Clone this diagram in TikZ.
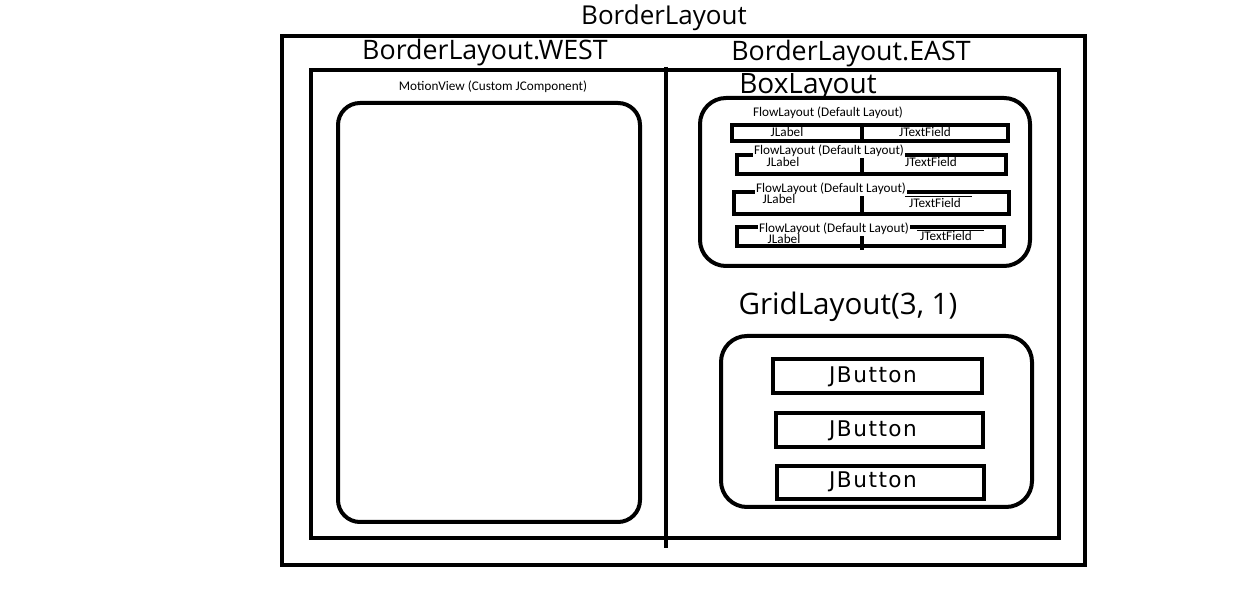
\documentclass[tikz,border=0pt]{standalone}
\usepackage{fontspec}
\setmainfont{Open Sans}
\newfontfamily\smallfont{Carlito}
\newfontfamily\btnfont[LetterSpace=7]{DejaVu Sans}
\usepackage{tikz}

\tikzset{
    box/.style={draw, line width=2pt, inner sep=0pt},
    roundbox/.style={draw, line width=2pt, rounded corners=11pt},
    rowbox/.style={draw, line width=1.6pt},
    bigtext/.style={font=\fontsize{13.4}{15}\selectfont, inner sep=0pt},
    hugetext/.style={font=\fontsize{14}{16}\selectfont, inner sep=0pt},
    tinytext/.style={font=\smallfont\fontsize{6.6}{7}\selectfont, inner sep=0pt},
    covertext/.style={tinytext, fill=white, inner sep=0.4pt},
    btntext/.style={font=\btnfont\fontsize{10.8}{12}\selectfont, inner sep=0pt},
}

\begin{document}
\begin{tikzpicture}[x=0.5pt, y=-0.5pt]
    \useasboundingbox (0,0) rectangle (1257,613);

    % Outer frames
    \node[bigtext, font=\fontsize{13}{15}\selectfont] (title) at (664,18) {BorderLayout};
    \draw[box] (282,36) rectangle (1085,565);
    \draw[box] (311,70) rectangle (1059,538);
    \draw[line width=2pt] (666,67) -- (666,548);
    \node[bigtext] (west) at (485,53) {BorderLayout.WEST};
    \node[bigtext] (east) at (851,54) {BorderLayout.EAST};

    % West side
    \node[tinytext] (motion) at (493,87) {MotionView (Custom JComponent)};
    \draw[roundbox] (338,103) rectangle (640,522);

    % BoxLayout
    \node[hugetext] (box) at (808,87) {BoxLayout};
    \draw[roundbox, rounded corners=13pt] (700,98) rectangle (1030,266);

    \node[tinytext] (flowA) at (828,113) {FlowLayout (Default Layout)};
    \draw[rowbox] (732,125) rectangle (1008,141);
    \draw[line width=1.6pt] (862,125) -- (862,141);
    \node[tinytext] (labelA) at (787,132) {JLabel};
    \node[tinytext] (fieldA) at (925,132) {JTextField};

    \draw[rowbox] (737,155) rectangle (1006,174);
    \draw[line width=1.6pt] (862,155) -- (862,176);
    \node[covertext] (flowB) at (829,151) {FlowLayout (Default Layout)};
    \node[tinytext] (labelB) at (783,162) {JLabel};
    \node[tinytext] (fieldB) at (931,162) {JTextField};

    \draw[rowbox] (734,192) rectangle (1009,214);
    \draw[line width=1.6pt] (862,192) -- (862,214);
    \node[covertext] (flowC) at (831,189) {FlowLayout (Default Layout)};
    \node[tinytext] (labelC) at (779,199) {JLabel};
    \node[covertext] (fieldC) at (935,203) {JTextField};
    \draw[line width=0.5pt] (905,197) -- (972,197);

    \draw[rowbox] (737,227) rectangle (1004,246);
    \draw[line width=1.6pt] (862,227) -- (862,250);
    \node[covertext] (flowD) at (834,229) {FlowLayout (Default Layout)};
    \node[covertext] (labelD) at (784,239) {JLabel};
    \node[covertext] (fieldD) at (946,236) {JTextField};
    \draw[line width=0.5pt] (917,231) -- (984,231);

    % GridLayout
    \node[hugetext, font=\fontsize{14.8}{17}\selectfont] (grid) at (848,307) {GridLayout(3, 1)};
    \draw[roundbox, rounded corners=13pt] (721,336) rectangle (1032,507);

    \draw[rowbox] (773,359) rectangle (982,393);
    \node[btntext] (btnA) at (873,377) {JButton};
    \draw[rowbox] (776,413) rectangle (983,447);
    \node[btntext] (btnB) at (873,431) {JButton};
    \draw[rowbox] (777,466) rectangle (984,499);
    \node[btntext] (btnC) at (873,482) {JButton};
\end{tikzpicture}
\end{document}
